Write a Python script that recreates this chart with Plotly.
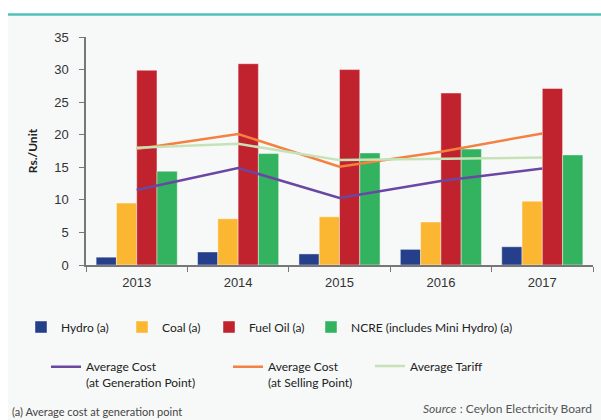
import plotly.graph_objects as go

years = ["2013", "2014", "2015", "2016", "2017"]

hydro = [1.2, 2.0, 1.7, 2.4, 2.8]
coal = [9.5, 7.1, 7.4, 6.6, 9.8]
fuel_oil = [29.9, 30.9, 30.0, 26.4, 27.1]
ncre = [14.4, 17.1, 17.2, 17.8, 16.9]

cost_generation = [11.5, 14.9, 10.3, 12.9, 14.8]
cost_selling = [17.8, 20.1, 15.1, 17.4, 20.2]
avg_tariff = [18.0, 18.6, 16.1, 16.3, 16.5]

# plot area in pixels: x 86..593, y 37..265
def px_x(p):
    return (p - 86) / 507

def px_y(p):
    return (265 - p) / 228

bar_line = dict(color="rgba(255,255,255,0.55)", width=0.8)

fig = go.Figure()
fig.add_bar(x=years, y=hydro, name="Hydro (a)", marker=dict(color="#253f8a", line=bar_line), legend="legend")
fig.add_bar(x=years, y=coal, name="Coal (a)", marker=dict(color="#fbb632", line=bar_line), legend="legend2")
fig.add_bar(x=years, y=fuel_oil, name="Fuel Oil (a)", marker=dict(color="#c1232e", line=bar_line), legend="legend3")
fig.add_bar(x=years, y=ncre, name="NCRE (includes Mini Hydro) (a)", marker=dict(color="#33b35f", line=bar_line), legend="legend4")

fig.add_scatter(x=years, y=cost_generation, mode="lines", name="Average Cost<br>(at Generation Point)",
                line=dict(color="#6a47a3", width=2.5), legend="legend5")
fig.add_scatter(x=years, y=cost_selling, mode="lines", name="Average Cost<br>(at Selling Point)",
                line=dict(color="#f58140", width=2.5), legend="legend6")
fig.add_scatter(x=years, y=avg_tariff, mode="lines", name="Average Tariff",
                line=dict(color="#c6e3b8", width=2.5), legend="legend7")

leg_font = dict(family="Lato, Noto Sans, sans-serif", size=12, color="#222222")

def legend_at(px_left, px_mid, valign="middle"):
    return dict(x=px_x(px_left), y=px_y(px_mid), xanchor="left", yanchor="middle",
                bgcolor="rgba(0,0,0,0)", font=leg_font, valign=valign,
                orientation="h", itemclick=False, itemdoubleclick=False)

fig.update_layout(
    width=601, height=420,
    margin=dict(l=86, r=8, t=37, b=155, autoexpand=False),
    showlegend=True,
    paper_bgcolor="white",
    plot_bgcolor="rgba(0,0,0,0)",
    barmode="group", bargap=0.2, bargroupgap=0,
    font=dict(family="Liberation Sans, Arial, sans-serif", color="#333333"),
    legend=legend_at(21, 327),
    legend2=legend_at(122, 327),
    legend3=legend_at(209, 327),
    legend4=legend_at(311, 327),
    legend5=legend_at(46, 375, "top"),
    legend6=legend_at(228, 375, "top"),
    legend7=legend_at(370, 366),
    xaxis=dict(
        showline=True, linecolor="#777777", linewidth=1.5,
        ticks="outside", tickson="boundaries", ticklen=5, tickcolor="#777777",
        ticklabelstandoff=5,
        tickfont=dict(size=13, color="#333333"), showgrid=False,
    ),
    yaxis=dict(
        range=[0, 35], dtick=5, showgrid=False, zeroline=False,
        showline=True, linecolor="#777777", linewidth=1.5,
        ticks="outside", ticklen=5, tickcolor="#777777",
        ticklabelstandoff=8,
        tickfont=dict(size=13, color="#333333"),
        title=dict(text="<b>Rs./Unit</b>", standoff=14,
                   font=dict(family="Lato, Noto Sans, sans-serif", size=12, color="#222222")),
    ),
    shapes=[
        dict(type="rect", xref="paper", yref="paper", layer="below",
             x0=px_x(8), x1=px_x(601), y0=px_y(420), y1=px_y(16),
             fillcolor="#f7f9f9", line=dict(width=0)),
        dict(type="line", xref="paper", yref="paper",
             x0=px_x(8), x1=px_x(601), y0=px_y(14.5), y1=px_y(14.5),
             line=dict(color="#4fc0b8", width=2.5)),
    ],
    annotations=[
        dict(text="(a) Average cost at generation point", xref="paper", yref="paper",
             x=px_x(10), y=px_y(411), xanchor="left", yanchor="middle", showarrow=False,
             font=dict(family="Lato, Noto Sans, sans-serif", size=11, color="#444444")),
        dict(text="<i>Source</i> : Ceylon Electricity Board", xref="paper", yref="paper",
             x=px_x(594), y=px_y(408), xanchor="right", yanchor="middle", showarrow=False,
             font=dict(family="Lato, Noto Sans, sans-serif", size=12, color="#555555")),
    ],
)

# drop the page's default body margin so the figure sits at the window corner
fig.write_html("out.html", config={"displayModeBar": False},
               post_script="document.body.style.margin='0';")
